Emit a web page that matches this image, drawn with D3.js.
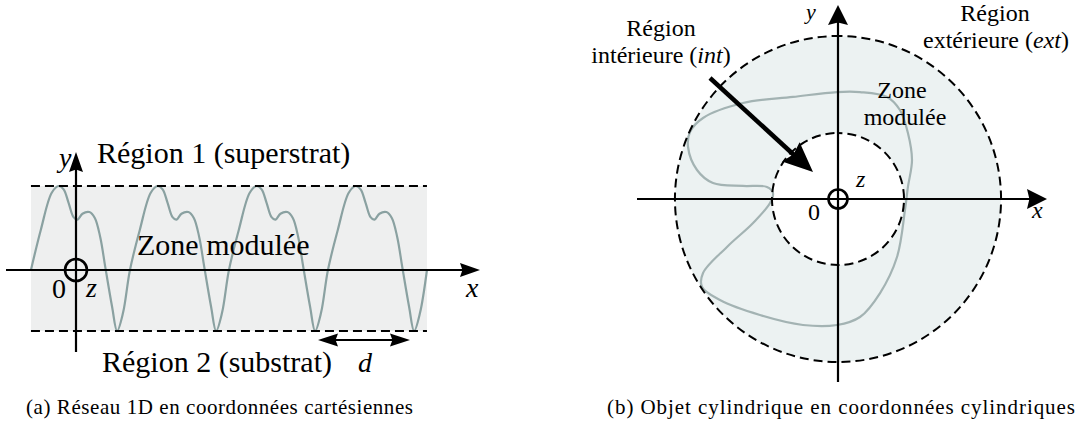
<!DOCTYPE html>
<html>
<head>
<meta charset="utf-8">
<script src="https://cdnjs.cloudflare.com/ajax/libs/d3/7.8.5/d3.min.js"></script>
<style>
    body { margin: 0; background: #fff; }
</style>
</head>
<body>
<div id="chart"></div>
<script>
// (a) one period of the grating profile: phase in periods, height relative to the superstrat line
var gratingPhase  = [0, 0.10, 0.21, 0.28, 0.33, 0.38, 0.43, 0.47, 0.52, 0.59, 0.645, 0.70, 0.75, 0.82, 0.87, 0.93, 1.0];
var gratingHeight = [0, 0.48, 0.92, 1.00, 0.96, 0.80, 0.63, 0.60, 0.67, 0.69, 0.62, 0.39, 0.04, -0.44, -0.726, -0.51, 0];
var gratingPeriods = [0, 1, 2, 3];
var gratingStart = -0.455;           // first period starts left of the y axis
var gratingBounds = [-0.726, 1];     // substrat line, superstrat line

// (b) cylinder: ring radii and the modulated profile (outer radius = 1)
var ringRadii = [0.405, 1];
var blobX = [-0.006, -0.276, -0.583, -0.828, -0.908, -0.920, -0.865, -0.767, -0.583, -0.436, -0.399, -0.417, -0.521, -0.681, -0.828,
             -0.834, -0.724, -0.479, -0.215, -0.006, 0.135, 0.258, 0.362, 0.411, 0.429, 0.454, 0.429, 0.380, 0.301, 0.135];
var blobY = [0.656, 0.626, 0.589, 0.497, 0.411, 0.319, 0.178, 0.098, 0.080, 0.074, 0.037, -0.025, -0.147, -0.294, -0.454,
             -0.540, -0.620, -0.712, -0.773, -0.773, -0.724, -0.577, -0.356, -0.067, 0.074, 0.239, 0.405, 0.546, 0.626, 0.656];

var captions = ["(a) Réseau 1D en coordonnées cartésiennes", "(b) Objet cylindrique en coordonnées cylindriques"];

var ink = "#000";
var waveColor = "#8aa1a1";
var blobColor = "#a3b3b3";
var serif = "'Liberation Serif', 'DejaVu Serif', serif";

var svg = d3.select("#chart").append("svg").attr("width", 1077).attr("height", 427);

function arrowHead(g, x, y, angle, len, wid) {
    var a = angle * Math.PI / 180;
    var c = Math.cos(a), s = Math.sin(a);
    var bx = x - c * len, by = y - s * len;
    var p = d3.path();
    p.moveTo(x, y);
    p.lineTo(bx - s * wid / 2, by + c * wid / 2);
    p.lineTo(bx + c * len * 0.12, by + s * len * 0.12);
    p.lineTo(bx + s * wid / 2, by - c * wid / 2);
    p.closePath();
    g.append("path").attr("d", p.toString()).attr("fill", ink);
}

function label(g, x, y, parts, size, anchor) {
    var t = g.append("text").attr("x", x).attr("y", y)
        .attr("font-family", serif).attr("font-size", size).attr("fill", ink)
        .attr("text-anchor", anchor || "start");
    parts.forEach(function (part) {
        t.append("tspan").text(part[0]).attr("font-style", part[1] ? "italic" : null);
    });
    return t;
}

// ---------- (a) cartesian grating ----------
var xA = d3.scaleLinear().domain([0, 1]).range([76, 175]);
var yA = d3.scaleLinear().domain([0, 1]).range([270, 186]);
var gA = svg.append("g");

gA.append("rect")
    .attr("x", xA(gratingStart))
    .attr("y", yA(gratingBounds[1]))
    .attr("width", xA(gratingStart + gratingPeriods.length) - xA(gratingStart))
    .attr("height", yA(gratingBounds[0]) - yA(gratingBounds[1]))
    .attr("fill", "#eeefef");

var wavePoints = [];
gratingPeriods.forEach(function (k) {
    gratingPhase.forEach(function (ph, i) {
        if (k > 0 && i === 0) return;
        wavePoints.push([gratingStart + k + ph, gratingHeight[i]]);
    });
});

gA.append("path")
    .datum(wavePoints)
    .attr("d", d3.line().x(function (d) { return xA(d[0]); }).y(function (d) { return yA(d[1]); }).curve(d3.curveCatmullRom.alpha(0.5)))
    .attr("fill", "none").attr("stroke", waveColor).attr("stroke-width", 2.2);

gratingBounds.forEach(function (b) {
    gA.append("line")
        .attr("x1", xA(gratingStart)).attr("x2", xA(gratingStart + gratingPeriods.length))
        .attr("y1", yA(b)).attr("y2", yA(b))
        .attr("stroke", ink).attr("stroke-width", 2).attr("stroke-dasharray", "9,5");
});

// axes
gA.append("line").attr("x1", 6).attr("x2", 464).attr("y1", yA(0)).attr("y2", yA(0)).attr("stroke", ink).attr("stroke-width", 2.2);
arrowHead(gA, 480, yA(0), 0, 20, 14);
gA.append("line").attr("x1", xA(0)).attr("x2", xA(0)).attr("y1", 352).attr("y2", 168).attr("stroke", ink).attr("stroke-width", 2.2);
arrowHead(gA, xA(0), 152, -90, 20, 14);
gA.append("circle").attr("cx", xA(0)).attr("cy", yA(0)).attr("r", 11).attr("fill", "none").attr("stroke", ink).attr("stroke-width", 2.6);

// period arrow d
gA.append("line").attr("x1", 330).attr("x2", 397).attr("y1", 340).attr("y2", 340).attr("stroke", ink).attr("stroke-width", 2.2);
arrowHead(gA, 318, 340, 180, 20, 13);
arrowHead(gA, 410, 340, 0, 20, 13);

label(gA, 59, 167, [["y", true]], 28);
label(gA, 52, 298, [["0", false]], 28);
label(gA, 86, 297, [["z", true]], 28);
label(gA, 466, 297, [["x", true]], 28);
label(gA, 358, 372, [["d", true]], 28);
label(gA, 97, 163, [["Région 1 (superstrat)", false]], 30);
label(gA, 137, 255, [["Zone modulée", false]], 30);
label(gA, 102, 372, [["Région 2 (substrat)", false]], 30);

// ---------- (b) cylindrical object ----------
var cx = 838, cy = 199;
var xB = d3.scaleLinear().domain([0, 1]).range([cx, cx + 163]);
var yB = d3.scaleLinear().domain([0, 1]).range([cy, cy - 163]);
var rB = function (r) { return xB(r) - xB(0); };
var gB = svg.append("g");

gB.append("path")
    .attr("transform", "translate(" + cx + "," + cy + ")")
    .attr("d", d3.arc().innerRadius(rB(ringRadii[0])).outerRadius(rB(ringRadii[1])).startAngle(0).endAngle(2 * Math.PI)())
    .attr("fill", "#ecf2f2");

var blobPoints = blobX.map(function (x, i) { return [x, blobY[i]]; });
gB.append("path")
    .datum(blobPoints)
    .attr("d", d3.line().x(function (d) { return xB(d[0]); }).y(function (d) { return yB(d[1]); }).curve(d3.curveCatmullRomClosed.alpha(0.5)))
    .attr("fill", "none").attr("stroke", blobColor).attr("stroke-width", 2.2);

ringRadii.forEach(function (r) {
    var p = d3.path();
    p.moveTo(cx, cy - rB(r));
    p.arc(cx, cy, rB(r), -Math.PI / 2, 3 * Math.PI / 2);
    gB.append("path").attr("d", p.toString())
        .attr("fill", "none").attr("stroke", ink).attr("stroke-width", 2)
        .attr("stroke-dasharray", "9,5").attr("stroke-dashoffset", 4.5);
});

gB.append("line").attr("x1", 637).attr("x2", 1030).attr("y1", cy).attr("y2", cy).attr("stroke", ink).attr("stroke-width", 2.2);
arrowHead(gB, 1047, cy, 0, 20, 20);
gB.append("line").attr("x1", cx).attr("x2", cx).attr("y1", 382).attr("y2", 22).attr("stroke", ink).attr("stroke-width", 2.2);
arrowHead(gB, cx, 5, -90, 20, 20);
gB.append("circle").attr("cx", cx).attr("cy", cy).attr("r", 9.5).attr("fill", "none").attr("stroke", ink).attr("stroke-width", 2.6);

// pointer to the inner region
gB.append("line").attr("x1", 710).attr("y1", 78).attr("x2", 794).attr("y2", 155).attr("stroke", ink).attr("stroke-width", 4.5);
arrowHead(gB, 813, 172, Math.atan2(94, 103) * 180 / Math.PI, 30, 26);

label(gB, 806, 19, [["y", true]], 22);
label(gB, 1032, 218, [["x", true]], 24);
label(gB, 808, 220, [["0", false]], 24);
label(gB, 856, 187, [["z", true]], 24);
label(gB, 661, 36, [["Région", false]], 24, "middle");
label(gB, 661, 63, [["intérieure (", false], ["int", true], [")", false]], 24, "middle");
label(gB, 995, 21, [["Région", false]], 24, "middle");
label(gB, 996, 48, [["extérieure (", false], ["ext", true], [")", false]], 24, "middle");
label(gB, 902, 98, [["Zone", false]], 24, "middle");
label(gB, 905, 125, [["modulée", false]], 24, "middle");

// captions
svg.append("text").attr("x", 26).attr("y", 414).attr("font-family", serif).attr("font-size", 21)
    .attr("textLength", 387).attr("lengthAdjust", "spacing").text(captions[0]);
svg.append("text").attr("x", 607).attr("y", 414).attr("font-family", serif).attr("font-size", 21)
    .attr("textLength", 468).attr("lengthAdjust", "spacing").text(captions[1]);
</script>
</body>
</html>
